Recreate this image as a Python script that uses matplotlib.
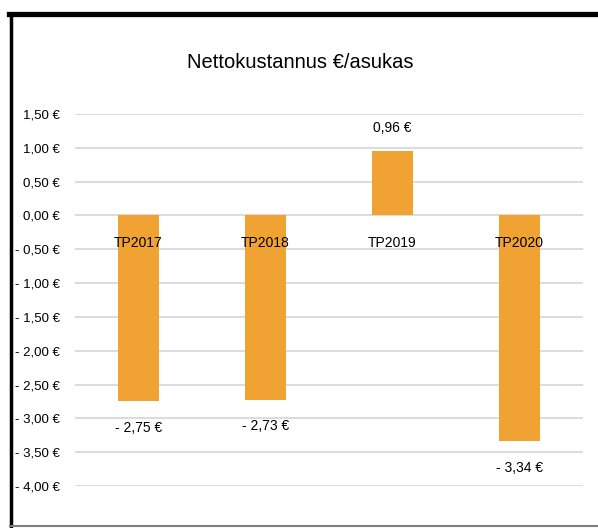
import matplotlib.pyplot as plt
from matplotlib.lines import Line2D

categories = ["TP2017", "TP2018", "TP2019", "TP2020"]
values = [-2.75, -2.73, 0.96, -3.34]
yticks = [1.5, 1.0, 0.5, 0.0, -0.5, -1.0, -1.5, -2.0, -2.5, -3.0, -3.5, -4.0]

plt.rcParams['font.family'] = ['Liberation Sans', 'DejaVu Sans']


def eur(v):
    s = "{:.2f}".format(abs(v)).replace(".", ",") + " €"
    if v < 0:
        s = "- " + s
    return s


fig = plt.figure(figsize=(5.98, 5.28), dpi=100)
ax = fig.add_axes([75 / 598, 1 - 486 / 528, 508 / 598, 372 / 528])

bar_col = '#F0A332'
x = list(range(len(categories)))
ax.bar(x, values, width=0.315, color=bar_col, zorder=2)

ax.set_xlim(-0.5, 3.5)
ax.set_ylim(-4.0, 1.5)
ax.set_yticks(yticks)
ax.set_yticklabels([eur(v) for v in yticks], fontsize=9.5)
ax.yaxis.grid(True, color='#D9D9D9', linewidth=1.3)
ax.set_axisbelow(True)
ax.tick_params(axis='y', length=0, pad=11)
ax.set_xticks([])
for sp in ax.spines.values():
    sp.set_visible(False)

# category labels sit just under the zero line, over the bars
for xi, c in zip(x, categories):
    ax.annotate(c, (xi, 0), xytext=(0, -20), textcoords='offset points',
                ha='center', va='center', fontsize=10, zorder=5)

for xi, v in zip(x, values):
    if v >= 0:
        ax.annotate(eur(v), (xi, v), xytext=(0, 16), textcoords='offset points',
                    ha='center', va='center', fontsize=10)
    else:
        ax.annotate(eur(v), (xi, v), xytext=(0, -19), textcoords='offset points',
                    ha='center', va='center', fontsize=10)

fig.text(300 / 598, 1 - 62 / 528, "Nettokustannus €/asukas", ha='center',
         va='center', fontsize=14.5)

# frame around the chart
fig.add_artist(Line2D([9 / 598, 1], [1 - 13.5 / 528, 1 - 13.5 / 528], color='black', linewidth=3.8))
fig.add_artist(Line2D([10.5 / 598, 10.5 / 598], [1 - 15 / 528, 0], color='black', linewidth=2.5))
fig.add_artist(Line2D([10 / 598, 1], [1 - 526 / 528, 1 - 526 / 528], color='#7F7F7F', linewidth=1.5))

fig.savefig("out.png", dpi=100)
